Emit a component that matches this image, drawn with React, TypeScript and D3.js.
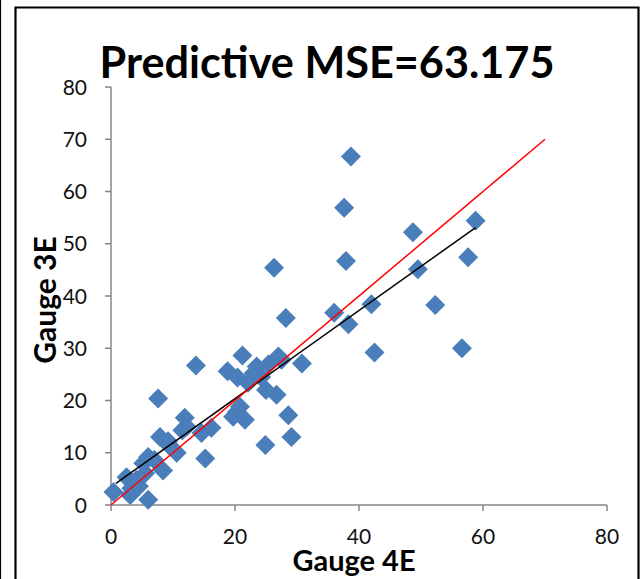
import React from "react";
import * as d3 from "d3";

// Data
const gauge4E = [
  38.7, 37.6, 37.9, 58.8, 48.7, 57.6, 49.5, 26.3, 28.2, 36.0, 42.0, 38.3, 52.3, 42.5, 56.6,
  13.7, 7.6, 21.2, 30.8, 27.0, 18.8, 23.5, 25.4, 23.0, 20.4, 22.1, 25.0, 26.7, 24.2, 20.8,
  19.7, 21.6, 28.6, 29.1, 24.9, 20.3, 11.9, 12.2, 11.5, 16.2, 14.6, 15.2, 7.9, 9.2, 9.4,
  10.6, 6.0, 5.2, 8.4, 5.5, 2.5, 4.1, 3.3, 0.4, 3.1, 6.0, 7.0, 4.5, 27.5,
];
const gauge3E = [
  66.7, 56.9, 46.7, 54.4, 52.2, 47.4, 45.1, 45.4, 35.8, 36.8, 38.4, 34.6, 38.3, 29.2, 30.0,
  26.7, 20.4, 28.6, 27.1, 28.4, 25.6, 26.5, 26.9, 25.2, 24.4, 23.4, 22.0, 21.1, 24.5, 18.8,
  16.9, 16.3, 17.2, 13.0, 11.5, 17.8, 16.7, 15.0, 14.3, 14.8, 13.8, 8.9, 13.0, 12.2, 11.4,
  10.0, 9.2, 8.0, 6.6, 6.1, 5.3, 4.8, 3.2, 2.5, 1.9, 1.0, 8.6, 3.6, 27.8,
];
const xTicks = [0, 20, 40, 60, 80];
const yTicks = [0, 10, 20, 30, 40, 50, 60, 70, 80];
const identityLine = [0, 70];
const trendIntercept = 3.47;
const trendSlope = 0.844;
const trendRange = [0.8, 58.8];

const title = "Predictive MSE=63.175";
const xTitle = "Gauge 4E";
const yTitle = "Gauge 3E";

export default function App() {
  const W = 640;
  const H = 579;
  const x = d3.scaleLinear().domain([0, 80]).range([111, 607]);
  const y = d3.scaleLinear().domain([0, 80]).range([505, 87]);
  const font = "Lato, 'Open Sans', sans-serif";
  const axisColor = "#868686";
  const r = 10;
  const diamond = (cx: number, cy: number) =>
    `M${cx},${cy - r}L${cx + r},${cy}L${cx},${cy + r}L${cx - r},${cy}Z`;
  const line = d3
    .line<number>()
    .x((d) => x(d))
    .y((d) => y(d));
  const trend = d3
    .line<number>()
    .x((d) => x(d))
    .y((d) => y(trendIntercept + trendSlope * d));

  return (
    <div style={{ position: "fixed", left: 0, top: 0 }}>
      <svg width={W} height={H} style={{ display: "block", background: "#fff" }}>
        <rect x={0} y={0} width={W} height={H} fill="#fff" />
        {/* frame */}
        <line x1={0.5} y1={0} x2={0.5} y2={H} stroke="#000" strokeWidth={1.2} />
        <path d={`M15.5,${H}V7.5H638.5V${H}`} fill="none" stroke="#000" strokeWidth={2.2} />
        {/* title */}
        <text
          x={327}
          y={78}
          textAnchor="middle"
          fontFamily={font}
          fontWeight="bold"
          fontSize={44}
          textLength={455}
          lengthAdjust="spacingAndGlyphs"
          fill="#000"
        >
          {title}
        </text>
        {/* axes */}
        <line x1={x(0)} y1={y(0)} x2={x(80)} y2={y(0)} stroke={axisColor} strokeWidth={1.5} />
        <line x1={x(0)} y1={y(0)} x2={x(0)} y2={y(80)} stroke={axisColor} strokeWidth={1.5} />
        {xTicks.map((t) => (
          <g key={"xt" + t}>
            <line x1={x(t)} x2={x(t)} y1={y(0)} y2={y(0) + 6} stroke={axisColor} strokeWidth={1.5} />
            <text
              x={x(t)}
              y={544}
              textAnchor="middle"
              fontFamily={font}
              fontSize={21}
              fill="#111"
            >
              {t}
            </text>
          </g>
        ))}
        {yTicks.map((t) => (
          <g key={"yt" + t}>
            <line x1={x(0) - 6} x2={x(0)} y1={y(t)} y2={y(t)} stroke={axisColor} strokeWidth={1.5} />
            <text
              x={87}
              y={y(t) + 7.5}
              textAnchor="end"
              fontFamily={font}
              fontSize={21}
              fill="#111"
            >
              {t}
            </text>
          </g>
        ))}
        {/* points */}
        {gauge4E.map((v, i) => (
          <path key={"p" + i} d={diamond(x(v), y(gauge3E[i]))} fill="#4A7EBB" />
        ))}
        {/* lines */}
        <path d={trend(trendRange) || ""} fill="none" stroke="#000" strokeWidth={1.5} />
        <path d={line(identityLine) || ""} fill="none" stroke="#FF0000" strokeWidth={1.5} />
        {/* axis titles */}
        <text
          x={354}
          y={571}
          textAnchor="middle"
          fontFamily={font}
          fontWeight="bold"
          fontSize={29}
          fill="#000"
        >
          {xTitle}
        </text>
        <text
          transform={`translate(56,300) rotate(-90)`}
          textAnchor="middle"
          fontFamily={font}
          fontWeight="bold"
          fontSize={30}
          fill="#000"
        >
          {yTitle}
        </text>
      </svg>
    </div>
  );
}
